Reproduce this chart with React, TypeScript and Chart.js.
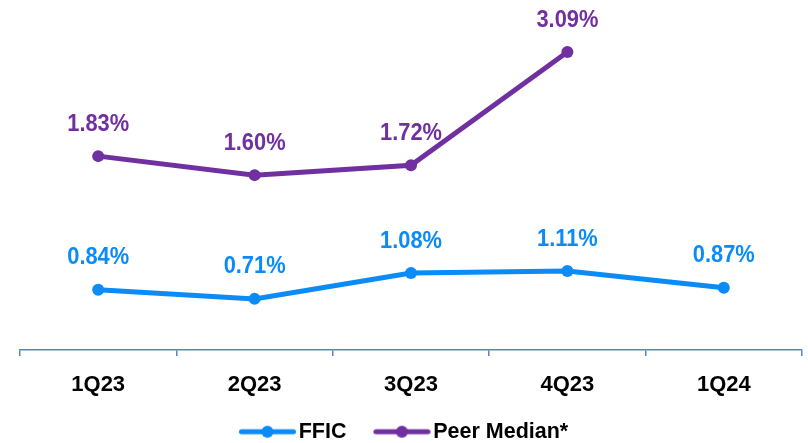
import React, { useEffect, useRef } from "react";
import { Chart, registerables } from "chart.js";

Chart.register(...registerables);

const categories = ["1Q23", "2Q23", "3Q23", "4Q23", "1Q24"];
const fficValues = [0.84, 0.71, 1.08, 1.11, 0.87];
const peerValues = [1.83, 1.6, 1.72, 3.09, null];
const seriesNames = ["FFIC", "Peer Median*"];

const FFIC_COLOR = "#0A8BF7";
const PEER_COLOR = "#7030A0";
const AXIS_COLOR = "#5A83C3";
const FONT_FAMILY = "'Liberation Sans', Arial, sans-serif";

function makeLegendIcon(color: string): HTMLCanvasElement {
  const c = document.createElement("canvas");
  c.width = 80;
  c.height = 14;
  const ctx = c.getContext("2d")!;
  ctx.strokeStyle = color;
  ctx.lineWidth = 5;
  ctx.lineCap = "round";
  ctx.beginPath();
  ctx.moveTo(19.5, 7);
  ctx.lineTo(71.5, 7);
  ctx.stroke();
  ctx.fillStyle = color;
  ctx.beginPath();
  ctx.arc(45.5, 7, 6, 0, Math.PI * 2);
  ctx.fill();
  return c;
}

const dataLabelPlugin = {
  id: "dataLabels",
  afterDatasetsDraw(chart: any) {
    const ctx = chart.ctx;
    chart.data.datasets.forEach((ds: any, i: number) => {
      const meta = chart.getDatasetMeta(i);
      meta.data.forEach((pt: any, j: number) => {
        const v = ds.data[j];
        if (v === null || v === undefined) return;
        ctx.save();
        ctx.translate(pt.x, pt.y - 32);
        ctx.scale(0.91, 1);
        ctx.font = `bold 24px ${FONT_FAMILY}`;
        ctx.textAlign = "center";
        ctx.textBaseline = "middle";
        ctx.fillStyle = ds.borderColor;
        ctx.fillText(`${v.toFixed(2)}%`, 0, 0);
        ctx.restore();
      });
    });
  },
};

export default function App() {
  const ref = useRef<HTMLCanvasElement>(null);
  useEffect(() => {
    if (!ref.current) return;
    const icons = [makeLegendIcon(FFIC_COLOR), makeLegendIcon(PEER_COLOR)];
    const chart = new Chart(ref.current, {
      type: "line",
      data: {
        labels: categories,
        datasets: [
          {
            label: seriesNames[0],
            data: fficValues,
            borderColor: FFIC_COLOR,
            backgroundColor: FFIC_COLOR,
            borderWidth: 5,
            pointRadius: 6,
            pointHoverRadius: 6,
            pointBorderWidth: 0,
            pointStyle: "circle",
            yAxisID: "y",
            tension: 0,
          },
          {
            label: seriesNames[1],
            data: peerValues,
            borderColor: PEER_COLOR,
            backgroundColor: PEER_COLOR,
            borderWidth: 5,
            pointRadius: 6,
            pointHoverRadius: 6,
            pointBorderWidth: 0,
            pointStyle: "circle",
            yAxisID: "y1",
            tension: 0,
          },
        ],
      },
      options: {
        responsive: false,
        animation: false,
        devicePixelRatio: 1,
        layout: { padding: { left: 20, right: 0, top: 10, bottom: 0 } },
        plugins: {
          tooltip: { enabled: false },
          legend: {
            position: "bottom",
            maxHeight: 46,
            labels: {
              usePointStyle: true,
              pointStyleWidth: 52,
              padding: 24,
              color: "#000",
              font: { family: FONT_FAMILY, size: 21.5, weight: "bold" },
              generateLabels: (chart: any) =>
                chart.data.datasets.map((ds: any, i: number) => ({
                  text: i === chart.data.datasets.length - 1 ? ds.label + "    " : ds.label,
                  fillStyle: ds.borderColor,
                  strokeStyle: ds.borderColor,
                  lineWidth: 0,
                  pointStyle: icons[i],
                  hidden: false,
                  datasetIndex: i,
                  fontColor: "#000",
                })),
            },
          },
        },
        scales: {
          x: {
            offset: true,
            afterFit: (scale: any) => {
              scale.height = 47;
            },
            border: { display: true, color: AXIS_COLOR, width: 1.5 },
            grid: {
              display: true,
              offset: true,
              drawOnChartArea: false,
              drawTicks: true,
              tickLength: 6,
              color: AXIS_COLOR,
              lineWidth: 1.5,
            },
            ticks: {
              color: "#000",
              padding: 16,
              font: { family: FONT_FAMILY, size: 22, weight: "bold" },
            },
          },
          y: { display: false, min: -0.0215, max: 4.843 },
          y1: { display: false, min: -0.517, max: 3.599 },
        },
      },
      plugins: [dataLabelPlugin],
    } as any);
    return () => chart.destroy();
  }, []);
  return (
    <div style={{ position: "fixed", left: 0, top: 0, width: 808, height: 443, background: "#fff" }}>
      <canvas ref={ref} width={808} height={443} />
    </div>
  );
}
